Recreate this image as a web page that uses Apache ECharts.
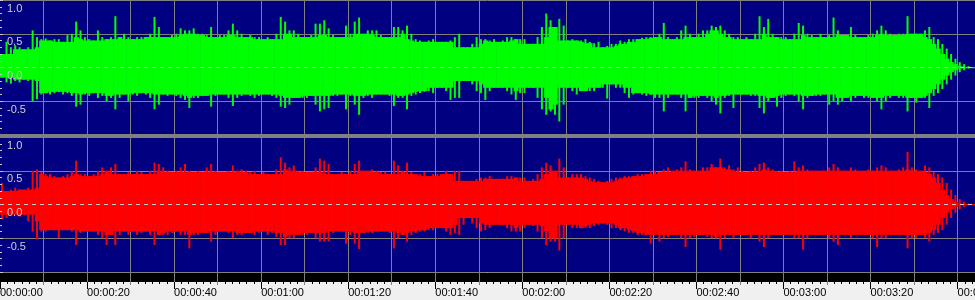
<!DOCTYPE html>
<html><head><meta charset="utf-8">
<script src="https://cdn.jsdelivr.net/npm/echarts@6/dist/echarts.min.js"></script>
<style>html,body{margin:0;padding:0;background:#f0f0f0;overflow:hidden}#c{width:975px;height:300px}</style>
</head><body><div id="c"></div><script>
// Waveform envelopes, one column per second (0 s .. 223 s)
const greenTop=[0.2,0.38,0.3,0.33,0.3,0.27,0.3,0.55,0.45,0.42,
0.43,0.4,0.42,0.42,0.38,0.48,0.5,0.68,0.55,0.45,
0.42,0.4,0.55,0.45,0.42,0.45,0.76,0.45,0.5,0.45,
0.42,0.45,0.45,0.45,0.5,0.75,0.6,0.45,0.45,0.48,
0.5,0.58,0.55,0.55,0.58,0.5,0.5,0.48,0.6,0.45,
0.48,0.48,0.55,0.65,0.55,0.5,0.45,0.48,0.45,0.45,
0.42,0.45,0.42,0.5,0.75,0.68,0.55,0.55,0.5,0.45,
0.45,0.48,0.65,0.65,0.7,0.58,0.48,0.45,0.45,0.62,
0.5,0.68,0.74,0.5,0.55,0.55,0.55,0.48,0.45,0.45,
0.6,0.6,0.55,0.62,0.5,0.42,0.4,0.38,0.4,0.42,
0.38,0.38,0.38,0.4,0.45,0.5,0.3,0.3,0.35,0.45,
0.42,0.42,0.4,0.42,0.38,0.4,0.45,0.45,0.42,0.42,
0.42,0.35,0.35,0.45,0.6,0.8,0.7,0.6,0.72,0.62,
0.4,0.42,0.4,0.4,0.42,0.38,0.36,0.38,0.3,0.32,
0.35,0.35,0.4,0.38,0.42,0.42,0.42,0.44,0.45,0.45,
0.45,0.5,0.66,0.45,0.42,0.45,0.55,0.62,0.5,0.45,
0.5,0.55,0.55,0.62,0.6,0.62,0.55,0.5,0.45,0.45,
0.42,0.45,0.42,0.5,0.76,0.6,0.72,0.5,0.45,0.45,
0.45,0.42,0.5,0.66,0.62,0.5,0.48,0.45,0.5,0.45,
0.48,0.74,0.55,0.48,0.48,0.6,0.48,0.45,0.45,0.48,
0.5,0.55,0.62,0.55,0.5,0.48,0.5,0.5,0.76,0.5,
0.5,0.5,0.55,0.6,0.45,0.42,0.35,0.28,0.2,0.13,
0.08,0.05,0.02,0.005];
const greenBottom=[-0.15,-0.22,-0.24,-0.2,-0.22,-0.18,-0.2,-0.5,-0.47,-0.4,
-0.38,-0.4,-0.38,-0.36,-0.4,-0.38,-0.42,-0.58,-0.55,-0.4,
-0.42,-0.38,-0.45,-0.42,-0.5,-0.45,-0.62,-0.45,-0.4,-0.5,
-0.4,-0.42,-0.38,-0.4,-0.45,-0.62,-0.55,-0.4,-0.42,-0.4,
-0.42,-0.45,-0.48,-0.6,-0.45,-0.45,-0.42,-0.42,-0.58,-0.42,
-0.4,-0.4,-0.45,-0.57,-0.45,-0.42,-0.4,-0.42,-0.45,-0.42,
-0.4,-0.4,-0.42,-0.45,-0.58,-0.6,-0.55,-0.45,-0.45,-0.45,
-0.45,-0.42,-0.55,-0.65,-0.62,-0.6,-0.42,-0.42,-0.4,-0.62,
-0.42,-0.55,-0.7,-0.45,-0.42,-0.45,-0.4,-0.4,-0.4,-0.42,
-0.57,-0.45,-0.45,-0.62,-0.42,-0.4,-0.38,-0.36,-0.35,-0.38,
-0.3,-0.3,-0.35,-0.48,-0.45,-0.45,-0.2,-0.2,-0.25,-0.35,
-0.38,-0.48,-0.35,-0.3,-0.3,-0.3,-0.35,-0.4,-0.48,-0.38,
-0.38,-0.3,-0.3,-0.45,-0.62,-0.7,-0.65,-0.7,-0.8,-0.55,
-0.3,-0.35,-0.4,-0.35,-0.35,-0.35,-0.35,-0.3,-0.3,-0.46,
-0.25,-0.3,-0.3,-0.38,-0.45,-0.4,-0.38,-0.4,-0.42,-0.4,
-0.45,-0.45,-0.65,-0.45,-0.4,-0.4,-0.45,-0.65,-0.45,-0.45,
-0.45,-0.42,-0.45,-0.5,-0.55,-0.68,-0.45,-0.42,-0.6,-0.4,
-0.4,-0.4,-0.42,-0.42,-0.6,-0.68,-0.5,-0.45,-0.58,-0.45,
-0.42,-0.4,-0.42,-0.5,-0.62,-0.45,-0.42,-0.42,-0.42,-0.4,
-0.55,-0.5,-0.55,-0.5,-0.45,-0.5,-0.45,-0.42,-0.45,-0.45,
-0.45,-0.5,-0.62,-0.5,-0.45,-0.42,-0.45,-0.45,-0.65,-0.45,
-0.52,-0.45,-0.45,-0.6,-0.42,-0.38,-0.32,-0.25,-0.18,-0.12,
-0.07,-0.04,-0.015,-0.005];
const redTop=[0.32,0.2,0.22,0.25,0.22,0.22,0.25,0.5,0.52,0.48,
0.45,0.45,0.42,0.4,0.42,0.45,0.5,0.65,0.45,0.45,
0.42,0.45,0.5,0.55,0.5,0.55,0.6,0.45,0.45,0.48,
0.45,0.5,0.48,0.45,0.5,0.62,0.6,0.55,0.5,0.48,
0.5,0.55,0.6,0.5,0.48,0.5,0.48,0.55,0.6,0.5,
0.48,0.48,0.5,0.58,0.5,0.52,0.5,0.48,0.5,0.45,
0.48,0.45,0.45,0.52,0.7,0.62,0.55,0.58,0.5,0.5,
0.48,0.48,0.55,0.68,0.65,0.6,0.45,0.45,0.48,0.45,
0.5,0.6,0.65,0.5,0.5,0.52,0.5,0.48,0.48,0.45,
0.65,0.58,0.5,0.62,0.48,0.45,0.45,0.48,0.42,0.45,
0.45,0.45,0.5,0.45,0.5,0.5,0.35,0.35,0.35,0.38,
0.4,0.4,0.42,0.38,0.38,0.38,0.42,0.42,0.4,0.4,
0.4,0.35,0.38,0.45,0.55,0.62,0.58,0.5,0.68,0.55,
0.4,0.45,0.45,0.45,0.42,0.4,0.38,0.35,0.33,0.35,
0.38,0.4,0.4,0.42,0.42,0.42,0.45,0.45,0.45,0.5,
0.5,0.48,0.52,0.55,0.5,0.52,0.55,0.64,0.52,0.5,
0.5,0.55,0.55,0.6,0.55,0.68,0.55,0.58,0.52,0.55,
0.5,0.48,0.5,0.55,0.6,0.62,0.55,0.52,0.5,0.5,
0.48,0.5,0.64,0.55,0.58,0.52,0.5,0.5,0.5,0.5,
0.55,0.6,0.55,0.5,0.5,0.55,0.52,0.5,0.5,0.52,
0.5,0.55,0.58,0.55,0.5,0.5,0.52,0.55,0.78,0.55,
0.52,0.5,0.58,0.55,0.48,0.45,0.4,0.32,0.22,0.14,
0.08,0.04,0.015,0.005];
const redBottom=[-0.22,-0.2,-0.15,-0.15,-0.18,-0.15,-0.25,-0.4,-0.52,-0.4,
-0.4,-0.38,-0.38,-0.5,-0.38,-0.38,-0.4,-0.6,-0.42,-0.4,
-0.4,-0.4,-0.45,-0.5,-0.6,-0.45,-0.6,-0.45,-0.4,-0.45,
-0.4,-0.45,-0.42,-0.4,-0.45,-0.6,-0.45,-0.45,-0.45,-0.42,
-0.4,-0.45,-0.45,-0.65,-0.45,-0.45,-0.42,-0.42,-0.55,-0.45,
-0.4,-0.4,-0.42,-0.5,-0.45,-0.45,-0.42,-0.42,-0.45,-0.42,
-0.4,-0.45,-0.42,-0.48,-0.6,-0.6,-0.5,-0.5,-0.45,-0.45,
-0.45,-0.42,-0.5,-0.55,-0.55,-0.55,-0.42,-0.4,-0.4,-0.58,
-0.45,-0.58,-0.66,-0.42,-0.42,-0.42,-0.4,-0.4,-0.4,-0.42,
-0.65,-0.5,-0.45,-0.55,-0.45,-0.42,-0.4,-0.4,-0.38,-0.38,
-0.35,-0.35,-0.4,-0.45,-0.42,-0.45,-0.3,-0.2,-0.28,-0.35,
-0.4,-0.38,-0.35,-0.3,-0.3,-0.3,-0.35,-0.4,-0.4,-0.4,
-0.35,-0.3,-0.32,-0.4,-0.5,-0.6,-0.55,-0.55,-0.68,-0.5,
-0.3,-0.35,-0.35,-0.35,-0.35,-0.35,-0.32,-0.3,-0.28,-0.3,
-0.35,-0.35,-0.38,-0.4,-0.42,-0.42,-0.45,-0.45,-0.45,-0.58,
-0.45,-0.55,-0.5,-0.48,-0.45,-0.45,-0.5,-0.63,-0.5,-0.48,
-0.45,-0.45,-0.48,-0.5,-0.5,-0.67,-0.5,-0.45,-0.5,-0.45,
-0.45,-0.45,-0.5,-0.45,-0.55,-0.63,-0.5,-0.45,-0.45,-0.45,
-0.45,-0.45,-0.5,-0.5,-0.67,-0.5,-0.45,-0.45,-0.45,-0.45,
-0.5,-0.55,-0.6,-0.45,-0.45,-0.5,-0.45,-0.45,-0.45,-0.45,
-0.5,-0.63,-0.5,-0.5,-0.45,-0.45,-0.45,-0.45,-0.65,-0.5,
-0.5,-0.45,-0.5,-0.55,-0.45,-0.42,-0.38,-0.3,-0.2,-0.12,
-0.07,-0.035,-0.012,-0.005];

const ampLabelValues=[1,0.5,0,-0.5];
const ampLabels=['1.0','0.5','0.0','-0.5'];
const timeLabels=['00:00:00','00:00:20','00:00:40','00:01:00','00:01:20','00:01:40','00:02:00','00:02:20','00:02:40','00:03:00','00:03:20','00:03:40'];
const durationSec=224;

const GRID='#808080';
const chart=echarts.init(document.getElementById('c'),null,{renderer:'canvas'});

// grid lines (drawn under the waveform)
function ampGridAxis(gi){
  return {type:'value',gridIndex:gi,min:-1,max:1,interval:0.5,position:'left',z:0,
    axisLine:{show:false},axisTick:{show:false},axisLabel:{show:false},
    splitLine:{show:true,lineStyle:{color:GRID,width:1}}};
}
// labels and ticks (drawn over the waveform)
function ampLabelAxis(gi){
  return {type:'value',gridIndex:gi,min:-1,max:1,interval:0.5,position:'left',offset:0,z:10,
    axisLine:{show:false},splitLine:{show:false},
    axisTick:{show:true,inside:true,length:3,lineStyle:{color:'#c8c8c8'}},
    minorTick:{show:true,splitNumber:5,length:2,lineStyle:{color:'#c8c8c8'}},
    axisLabel:{inside:true,margin:7,align:'left',verticalAlign:'top',color:'#d0d0d0',fontSize:11,
      fontFamily:'Liberation Sans',padding:[3,0,0,0],
      formatter:v=>{const i=ampLabelValues.findIndex(a=>Math.abs(a-v)<1e-6);return i<0?'':ampLabels[i];}}
  };
}
function timeAxis(gi){
  return {type:'value',gridIndex:gi,min:0,max:durationSec,interval:10,
    axisLine:{show:false},axisTick:{show:false},axisLabel:{show:false},
    splitLine:{show:true,showMinLine:false,showMaxLine:false,lineStyle:{color:GRID,width:1}}};
}
// each second: a solid core up to the level its neighbours share, and a thin stroke up to its own peak
function waveSeries(gi,top,bottom,color){
  const n=top.length;
  return {type:'custom',xAxisIndex:gi,yAxisIndex:gi,clip:true,silent:true,z:2,
    data:top.map((v,i)=>[i,bottom[i],v]),
    renderItem:(params,api)=>{
      const i=params.dataIndex;
      const pT=top[i],pB=bottom[i];
      let cT=pT,cB=pB;
      for(let j=Math.max(0,i-2);j<=Math.min(n-1,i+2);j++){cT=Math.min(cT,top[j]);cB=Math.max(cB,bottom[j]);}
      const x0=api.coord([i,0])[0],x1=api.coord([i+1,0])[0];
      const yPT=api.coord([i,pT])[1],yPB=api.coord([i,pB])[1];
      const yCT=api.coord([i,cT])[1],yCB=api.coord([i,cB])[1];
      const xm=(x0+x1)/2;
      return {type:'group',children:[
        {type:'rect',shape:{x:x0,y:yCT,width:x1-x0+0.6,height:Math.max(1,yCB-yCT)},style:{fill:color}},
        {type:'rect',shape:{x:xm-1,y:yPT,width:2,height:Math.max(1,yPB-yPT)},style:{fill:color}}
      ]};
    }};
}
function zeroLine(gi){
  return {type:'line',xAxisIndex:gi,yAxisIndex:gi,data:[[0,0],[durationSec,0]],symbol:'none',silent:true,z:5,
    lineStyle:{color:'#c8c8c8',width:1,type:[4,4]}};
}

chart.setOption({
  animation:false,
  backgroundColor:'#f0f0f0',
  grid:[
    {left:0,right:0,top:0,height:135,show:true,backgroundColor:'#000080',borderWidth:0,outerBoundsMode:'none',containLabel:false},
    {left:0,right:0,top:137,height:135,show:true,backgroundColor:'#000080',borderWidth:0,outerBoundsMode:'none',containLabel:false},
    {left:0,right:0,top:273,height:9,show:true,backgroundColor:'#000000',borderWidth:0,outerBoundsMode:'none',containLabel:false}
  ],
  xAxis:[
    timeAxis(0),timeAxis(1),
    {type:'value',gridIndex:2,min:0,max:durationSec,interval:10,position:'bottom',
      axisLine:{show:false},axisLabel:{show:false},
      axisTick:{show:true,length:3,lineStyle:{color:GRID}},
      minorTick:{show:true,splitNumber:6,length:2,lineStyle:{color:'#000'}},
      splitLine:{show:true,showMinLine:false,showMaxLine:false,lineStyle:{color:GRID,width:1}}},
    {type:'value',gridIndex:2,min:0,max:durationSec,interval:20,position:'bottom',offset:0,
      axisLine:{show:false},splitLine:{show:false},
      axisTick:{show:true,length:7,lineStyle:{color:'#000'}},
      axisLabel:{show:true,margin:5,align:'left',color:'#000',fontSize:11,fontFamily:'Liberation Sans',
        hideOverlap:false,showMinLabel:true,showMaxLabel:true,
        formatter:v=>(v%20===0?(timeLabels[v/20]||''):'')}}
  ],
  yAxis:[ampGridAxis(0),ampGridAxis(1),
    {type:'value',gridIndex:2,min:0,max:1,show:false},
    ampLabelAxis(0),ampLabelAxis(1)],
  series:[
    waveSeries(0,greenTop,greenBottom,'#00ff00'),
    waveSeries(1,redTop,redBottom,'#ff0000'),
    zeroLine(0),zeroLine(1)
  ],
  graphic:[{type:'rect',left:0,top:134,shape:{x:0,y:0,width:975,height:4},style:{fill:'#808080'},z:100}]
});
</script></body></html>
